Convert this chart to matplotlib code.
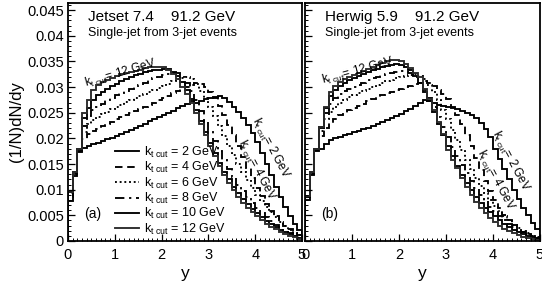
import matplotlib; matplotlib.use('Agg')
import matplotlib.pyplot as plt
import numpy as np

plt.rcParams.update({
    'font.family': ['Liberation Sans', 'DejaVu Sans'],
    'mathtext.fontset': 'custom', 'mathtext.rm': 'Liberation Sans',
    'mathtext.it': 'Liberation Sans', 'mathtext.default': 'regular',
    'axes.linewidth': 1.3, 'xtick.direction': 'in', 'ytick.direction': 'in',
})

# bin edges of the y histograms (50 bins, 0..5)
edges = np.linspace(0, 5, 51)
kt_cuts = [2, 4, 6, 8, 10, 12]

# Jetset 7.4, single-jet rapidity, values in units of 1e-3
jetset_kt2 = [7.8, 12.6, 17.3, 18.2, 18.6, 18.9, 19.2, 19.5, 19.8, 20.1,
              20.5, 20.8, 21.2, 21.6, 22.0, 22.5, 22.9, 23.4, 23.8, 24.2,
              24.6, 25.0, 25.4, 25.9, 26.3, 26.8, 27.2, 27.0, 27.3, 27.6,
              27.9, 28.1, 28.2, 27.9, 27.1, 26.2, 25.2, 24.0, 22.6, 21.0,
              19.3, 17.2, 15.0, 12.8, 10.6, 8.5, 6.6, 4.9, 3.4, 2.1]
jetset_kt4 = [8.6, 13.0, 17.6, 19.8, 20.8, 21.4, 21.9, 22.4, 22.8, 23.2,
              23.7, 24.1, 24.5, 25.0, 25.4, 25.8, 26.2, 26.6, 27.0, 27.5,
              27.9, 28.3, 28.8, 29.2, 29.7, 30.1, 30.5, 30.8, 30.6, 30.0,
              29.0, 27.8, 26.3, 24.6, 22.6, 20.6, 18.5, 16.4, 14.3, 12.3,
              10.4, 8.7, 7.2, 5.9, 4.8, 3.8, 3.0, 2.3, 1.7, 1.2]
jetset_kt6 = [9.3, 13.2, 17.8, 21.2, 22.8, 23.6, 24.2, 24.7, 25.2, 25.7,
              26.2, 26.6, 27.1, 27.5, 27.9, 28.3, 28.7, 29.1, 29.5, 29.9,
              30.3, 30.7, 31.1, 31.5, 31.8, 32.0, 31.6, 30.6, 29.3, 27.8,
              26.1, 24.3, 22.4, 20.5, 18.6, 16.8, 15.0, 13.4, 11.8, 10.4,
              9.0, 7.8, 6.6, 5.6, 4.6, 3.7, 2.9, 2.2, 1.6, 1.1]
jetset_kt8 = [9.5, 13.3, 18.0, 22.5, 24.4, 25.5, 26.2, 26.8, 27.4, 27.9,
              28.4, 28.9, 29.3, 29.7, 30.1, 30.5, 30.9, 31.3, 31.7, 32.0,
              32.3, 32.6, 32.8, 32.7, 32.0, 30.8, 29.2, 27.4, 25.4, 23.4,
              21.4, 19.4, 17.5, 15.7, 14.0, 12.5, 11.0, 9.7, 8.5, 7.4,
              6.4, 5.5, 4.7, 3.9, 3.2, 2.6, 2.0, 1.5, 1.1, 0.7]
jetset_kt10 = [9.6, 13.4, 18.0, 24.0, 26.0, 27.4, 28.4, 29.1, 29.7, 30.2,
               30.7, 31.2, 31.6, 32.0, 32.3, 32.6, 32.9, 33.1, 33.3, 33.4,
               33.5, 33.5, 33.0, 32.2, 31.0, 29.4, 27.6, 25.6, 23.4, 21.2,
               19.1, 17.1, 15.2, 13.5, 12.0, 10.6, 9.3, 8.2, 7.2, 6.3,
               5.4, 4.6, 3.9, 3.3, 2.7, 2.2, 1.7, 1.3, 0.9, 0.6]
jetset_kt12 = [9.6, 13.4, 18.0, 25.0, 27.5, 29.4, 30.4, 31.0, 31.4, 31.8,
               32.2, 32.5, 32.8, 33.0, 33.2, 33.4, 33.7, 33.9, 34.0, 34.0,
               33.9, 33.4, 32.6, 31.5, 30.1, 28.6, 26.9, 24.9, 22.8, 20.6,
               18.5, 16.5, 14.6, 12.9, 11.3, 9.9, 8.6, 7.5, 6.5, 5.6,
               4.8, 4.1, 3.4, 2.8, 2.3, 1.8, 1.4, 1.0, 0.7, 0.4]

# Herwig 5.9
herwig_kt2 = [8.0, 12.8, 17.5, 18.0, 19.0, 19.6, 20.0, 20.3, 20.6, 20.9,
              21.2, 21.5, 21.8, 22.1, 22.4, 22.8, 23.2, 23.6, 24.0, 24.4,
              24.8, 25.3, 25.8, 26.3, 26.9, 27.5, 27.3, 27.0, 26.6, 26.4,
              26.2, 26.0, 25.7, 25.4, 25.0, 24.5, 23.9, 23.1, 21.8, 20.3,
              18.0, 16.0, 14.0, 12.0, 10.0, 8.2, 6.5, 5.0, 3.6, 2.4]
herwig_kt4 = [8.3, 13.0, 17.8, 20.5, 22.0, 23.0, 23.8, 24.5, 25.0, 25.5,
              26.0, 26.4, 26.8, 27.2, 27.6, 28.0, 28.4, 28.8, 29.1, 29.4,
              29.7, 30.0, 30.3, 30.6, 30.9, 31.1, 30.8, 30.2, 29.4, 28.6,
              27.6, 26.2, 24.6, 22.8, 20.7, 18.5, 16.2, 13.9, 11.7, 9.7,
              7.9, 6.4, 5.1, 4.0, 3.1, 2.4, 1.8, 1.3, 0.9, 0.6]
herwig_kt6 = [8.5, 13.2, 17.9, 21.5, 23.8, 25.2, 26.2, 26.9, 27.5, 28.0,
              28.5, 28.9, 29.3, 29.7, 30.1, 30.5, 30.8, 31.1, 31.4, 31.7,
              32.0, 32.2, 32.4, 32.5, 32.2, 31.5, 30.4, 29.0, 27.4, 25.6,
              23.7, 21.7, 19.7, 17.7, 15.8, 14.0, 12.3, 10.7, 9.3, 8.0,
              6.8, 5.8, 4.8, 4.0, 3.2, 2.6, 2.0, 1.5, 1.0, 0.7]
herwig_kt8 = [8.6, 13.3, 18.0, 22.0, 25.0, 26.8, 27.8, 28.6, 29.2, 29.7,
              30.1, 30.5, 30.9, 31.3, 31.7, 32.0, 32.3, 32.6, 32.8, 33.0,
              33.1, 33.1, 32.8, 32.0, 30.9, 29.5, 27.9, 26.1, 24.2, 22.2,
              20.2, 18.3, 16.5, 14.8, 13.2, 11.7, 10.3, 9.0, 7.8, 6.7,
              5.8, 4.9, 4.1, 3.4, 2.8, 2.2, 1.7, 1.3, 0.9, 0.6]
herwig_kt10 = [8.7, 13.4, 18.0, 22.3, 26.0, 28.3, 29.5, 30.3, 30.9, 31.4,
               31.8, 32.2, 32.6, 33.0, 33.3, 33.6, 33.9, 34.1, 34.3, 34.5,
               34.4, 34.0, 33.3, 32.2, 30.8, 29.1, 27.2, 25.1, 22.9, 20.7,
               18.6, 16.6, 14.7, 12.9, 11.3, 9.9, 8.6, 7.5, 6.5, 5.6,
               4.8, 4.0, 3.3, 2.7, 2.2, 1.7, 1.3, 1.0, 0.7, 0.4]
herwig_kt12 = [8.7, 13.4, 18.0, 22.3, 26.2, 29.0, 30.3, 31.0, 31.5, 32.0,
               32.4, 32.8, 33.2, 33.6, 34.0, 34.4, 34.8, 35.1, 35.3, 35.3,
               35.0, 34.5, 33.7, 32.7, 32.0, 29.6, 27.7, 25.5, 23.2, 20.9,
               17.8, 15.8, 14.2, 12.2, 10.5, 9.0, 7.6, 6.4, 5.4, 4.5,
               3.7, 3.0, 2.4, 1.9, 1.5, 1.1, 0.8, 0.5, 0.3, 0.2]

jetset = [jetset_kt2, jetset_kt4, jetset_kt6, jetset_kt8, jetset_kt10, jetset_kt12]
herwig = [herwig_kt2, herwig_kt4, herwig_kt6, herwig_kt8, herwig_kt10, herwig_kt12]
styles = ['-', (0, (4, 2.5)), (0, (1, 1.5)), (0, (5, 2.5, 1.2, 2.5)), '-', '-']
colors = ['black', 'black', 'black', 'black', 'black', '#2a2a2a']

fig = plt.figure(figsize=(5.42, 2.83), dpi=100)
ax_l = fig.add_axes([68/542, 42/283, 234/542, 238/283])
ax_r = fig.add_axes([305/542, 42/283, 235/542, 238/283])

panels = [(ax_l, jetset, 'Jetset 7.4    91.2 GeV', '(a)'),
          (ax_r, herwig, 'Herwig 5.9    91.2 GeV', '(b)')]

for ax, curves, title, tag in panels:
    for kt, vals, ls, c in zip(kt_cuts, curves, styles, colors):
        ax.stairs(np.array(vals) * 1e-3, edges, color=c, ls=ls, lw=1.35,
                  label=r'k$_{\rm t\ cut}$ = %d GeV' % kt)
    ax.set_xlim(0, 5)
    ax.set_ylim(0, 0.0464)
    ax.set_xticks(np.arange(0, 6, 1))
    ax.set_yticks(np.arange(0, 0.0451, 0.005))
    ax.set_xticks(np.arange(0, 5.01, 0.1), minor=True)
    ax.set_yticks(np.arange(0, 0.0461, 0.001), minor=True)
    ax.tick_params(which='major', length=5, width=0.9, labelsize=10.5)
    ax.tick_params(axis='x', which='major', pad=5)
    ax.tick_params(axis='y', which='major', pad=3)
    ax.tick_params(which='minor', length=2.5, width=0.7)
    ax.set_xlabel('y', fontsize=12.5, labelpad=3)
    ax.text(0.43, 0.0437, title, fontsize=11, va='center')
    ax.text(0.43, 0.0405, 'Single-jet from 3-jet events', fontsize=9, va='center')
    ax.text(0.35, 0.0053, tag, fontsize=10, va='center')

ax_l.set_yticklabels(['0', '0.005', '0.01', '0.015', '0.02', '0.025',
                      '0.03', '0.035', '0.04', '0.045'])
ax_l.set_ylabel('(1/N)dN/dy', fontsize=12, labelpad=2)
ax_r.tick_params(labelleft=False)

ax_l.legend(loc='upper left', bbox_to_anchor=(0.18, 0.425), frameon=False,
            fontsize=9, handlelength=1.9, handletextpad=0.4,
            labelspacing=0.02, borderaxespad=0)

lab = r'k$_{\rm t\ cut}$= %d GeV'
ax_l.text(1.11, 0.0326, lab % 12, fontsize=8.5, rotation=16, ha='center', va='center')
ax_l.text(4.32, 0.0181, lab % 2, fontsize=8.5, rotation=-62, ha='center', va='center')
ax_l.text(4.02, 0.0138, lab % 4, fontsize=8.5, rotation=-62, ha='center', va='center')
ax_r.text(1.13, 0.0331, lab % 12, fontsize=8.5, rotation=15, ha='center', va='center')
ax_r.text(4.38, 0.0156, lab % 2, fontsize=8.5, rotation=-62, ha='center', va='center')
ax_r.text(4.06, 0.0119, lab % 4, fontsize=8.5, rotation=-62, ha='center', va='center')

fig.savefig('out.png', dpi=100)
